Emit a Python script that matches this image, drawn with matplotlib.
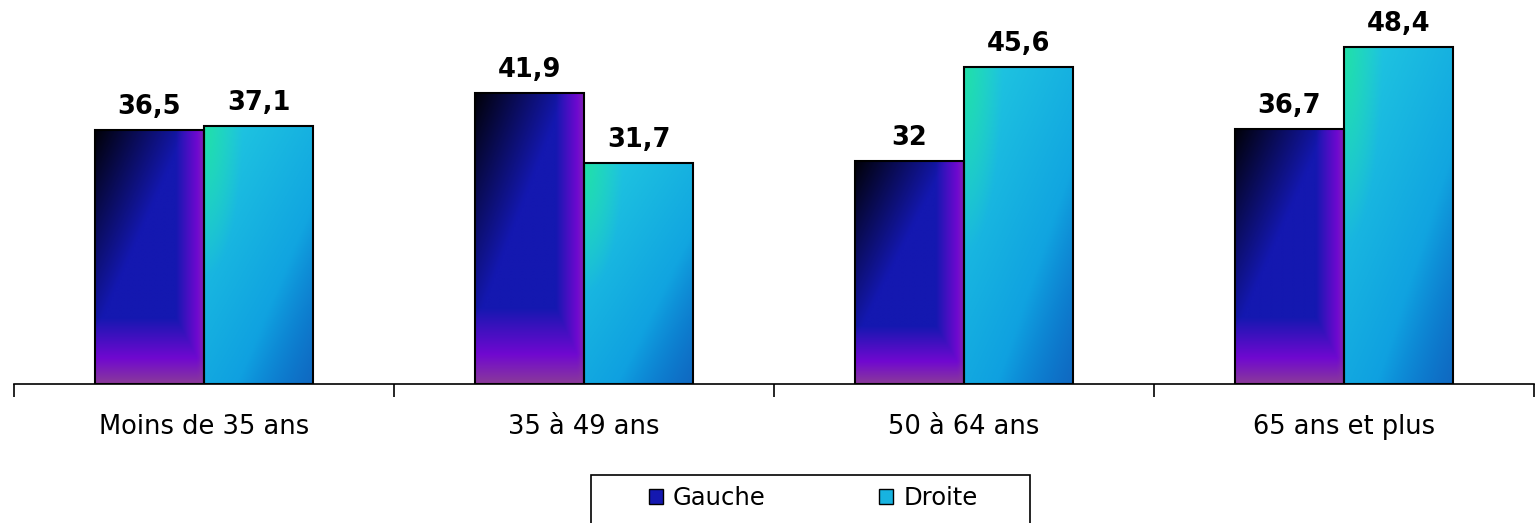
import numpy as np
import matplotlib
matplotlib.use("Agg")
from matplotlib import pyplot as plt
from matplotlib.patches import Patch, Rectangle

categories = ["Moins de 35 ans", "35 à 49 ans", "50 à 64 ans", "65 ans et plus"]
gauche = [36.5, 41.9, 32, 36.7]
droite = [37.1, 31.7, 45.6, 48.4]
series_names = ["Gauche", "Droite"]


def fmt(v):
    s = f"{v:g}"
    return s.replace(".", ",")


def hexrgb(h):
    h = h.lstrip("#")
    return np.array([int(h[i:i + 2], 16) / 255 for i in (0, 2, 4)])


def mix(a, b, t):
    t = t[..., None]
    return a * (1 - t) + b * t


def gauche_gradient(n=200, m=60):
    v, u = np.mgrid[0:1:n * 1j, 0:1:m * 1j]
    blue = hexrgb("#1418b0")
    dark = np.clip(1 - (u * 1.2 + v * 1.25), 0, 1)
    c = np.ones((n, m, 3)) * blue
    c = c * (1 - 0.95 * dark[..., None])
    p = np.maximum(np.clip((u - 0.74) / 0.2, 0, 1), np.clip((v - 0.74) / 0.16, 0, 1))
    c = mix(c, hexrgb("#7008d0"), p)
    q = np.clip((v - 0.9) / 0.1, 0, 1)
    c = mix(c, hexrgb("#8a3a9a"), q)
    q2 = np.clip((u - 0.94) / 0.06, 0, 1) * 0.6
    c = mix(c, hexrgb("#8a3a9a"), q2)
    return np.clip(c, 0, 1)


def droite_gradient(n=200, m=60):
    v, u = np.mgrid[0:1:n * 1j, 0:1:m * 1j]
    c = mix(np.ones((n, m, 3)) * hexrgb("#22cce0"), np.ones((n, m, 3)) * hexrgb("#0890e0"),
            np.clip(u * 0.45 + v * 0.6, 0, 1))
    g = np.clip(1 - np.sqrt(u ** 2 + (v * 0.6) ** 2) / 0.35, 0, 1)
    c = mix(c, hexrgb("#20e0a8"), g)
    d = np.clip((u + v - 1.3) / 0.7, 0, 1)
    c = mix(c, hexrgb("#1068c0"), d)
    return np.clip(c, 0, 1)


W, H = 1535, 523
fig = plt.figure(figsize=(W / 100, H / 100), dpi=100)
ax = fig.add_axes([14 / W, 139 / H, 1520 / W, 384 / H])

x = np.arange(len(categories))
w = 0.288
b1 = ax.bar(x - w / 2, gauche, w, facecolor="none", edgecolor="black", linewidth=1.5, zorder=3)
b2 = ax.bar(x + w / 2, droite, w, facecolor="none", edgecolor="black", linewidth=1.5, zorder=3)

img_g = gauche_gradient()
img_d = droite_gradient()
for bars, img in ((b1, img_g), (b2, img_d)):
    for r in bars:
        x0, y0 = r.get_x(), r.get_y()
        ax.imshow(img, extent=(x0, x0 + r.get_width(), y0, y0 + r.get_height()),
                  aspect="auto", zorder=2, interpolation="bilinear")

for bars, vals in ((b1, gauche), (b2, droite)):
    for r, v in zip(bars, vals):
        ax.text(r.get_x() + r.get_width() / 2, v + 2.3, fmt(v), ha="center", va="baseline",
                fontsize=18.5, fontweight="bold", color="black")

ax.set_xlim(-0.5, len(categories) - 0.5)
ax.set_ylim(0, 55.2)
ax.set_xticks(np.arange(-0.5, len(categories)), minor=False)
ax.set_xticklabels([])
ax.set_xticks(x, minor=True)
ax.set_xticklabels(categories, minor=True, fontsize=18.5)
ax.tick_params(axis="x", which="major", length=9, width=1.2, direction="out")
ax.tick_params(axis="x", which="minor", length=0, pad=21.5)
ax.set_yticks([])
for s in ("left", "right", "top"):
    ax.spines[s].set_visible(False)
ax.spines["bottom"].set_linewidth(1.2)

handles = [Patch(facecolor=img_g[120, 30], edgecolor="black", label=series_names[0]),
           Patch(facecolor=img_d[60, 30], edgecolor="black", label=series_names[1])]
fig.legend(handles=handles, loc="center left", bbox_to_anchor=(649 / W, 1 - 498 / H), ncol=2,
           fontsize=17.5, frameon=False,
           handlelength=0.58, handleheight=0.58, columnspacing=4.68, handletextpad=0.4,
           borderpad=0, borderaxespad=0)
fig.add_artist(Rectangle((591 / W, -0.02), (1030 - 591) / W, 1 - 475 / H + 0.02,
                         transform=fig.transFigure, facecolor="none", edgecolor="black",
                         linewidth=1.2))

fig.savefig("out.png", dpi=100)
